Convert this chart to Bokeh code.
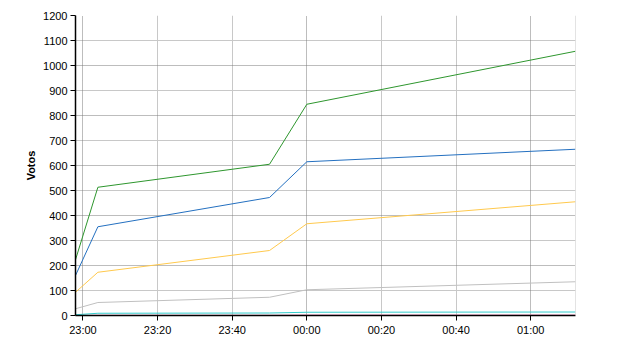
from datetime import datetime, timedelta
from bokeh.plotting import figure
from bokeh.models import Range1d, FixedTicker, Grid, DatetimeTickFormatter, Span
from bokeh.embed import file_html
from bokeh.resources import INLINE

# ---- data ----
times = ["22:58", "23:04", "23:50", "00:00", "01:12"]
green = [223, 513, 605, 845, 1057]
blue = [160, 355, 472, 615, 665]
yellow = [93, 173, 260, 367, 455]
gray = [27, 52, 73, 103, 135]
cyan = [3, 9, 10, 13, 14]
pink = [0, 1, 1, 2, 2]
x_tick_labels = ["23:00", "23:20", "23:40", "00:00", "00:20", "00:40", "01:00"]
y_ticks = list(range(0, 1201, 100))

BASE = datetime(2011, 5, 22)
EPOCH = datetime(1970, 1, 1)


def to_dt(hhmm):
    h, m = map(int, hhmm.split(":"))
    d = BASE if h >= 12 else BASE + timedelta(days=1)
    return d.replace(hour=h, minute=m)


def to_ms(dt):
    return (dt - EPOCH).total_seconds() * 1000.0


xs = [to_dt(t) for t in times]
x_start, x_end = xs[0], xs[-1]
tick_ms = [to_ms(to_dt(t)) for t in x_tick_labels]
hour_ticks = [to_ms(to_dt(t)) for t in x_tick_labels if t.endswith(":00")]
other_ticks = [to_ms(to_dt(t)) for t in x_tick_labels if not t.endswith(":00")]

p = figure(width=640, height=350, x_axis_type="datetime",
           x_range=Range1d(x_start, x_end), y_range=Range1d(0, 1200),
           output_backend="svg", toolbar_location=None,
           min_border_left=75, min_border_right=65,
           min_border_top=15, min_border_bottom=35)
p.outline_line_color = None
p.background_fill_color = "white"
p.border_fill_color = "white"

# grids
p.xgrid.grid_line_color = None
p.ygrid.grid_line_color = None
light = "#c8c8c8"
dark = "#7a7a7a"
p.add_layout(Grid(dimension=1, ticker=FixedTicker(ticks=[v for v in y_ticks if v % 200 == 100]),
                  grid_line_color=light, grid_line_width=1))
p.add_layout(Grid(dimension=0, ticker=FixedTicker(ticks=other_ticks),
                  grid_line_color=light, grid_line_width=1))
p.add_layout(Grid(dimension=1, ticker=FixedTicker(ticks=[v for v in y_ticks if v % 200 == 0]),
                  grid_line_color=dark, grid_line_width=1, grid_line_dash="1 1"))
p.add_layout(Grid(dimension=0, ticker=FixedTicker(ticks=hour_ticks),
                  grid_line_color=dark, grid_line_width=1, grid_line_dash="1 1"))
p.add_layout(Span(location=to_ms(x_end), dimension="height", line_color=light, line_width=1))

# lines
p.line(xs, gray, line_color="#c0c0c0", line_width=1)
p.line(xs, pink, line_color="#ff99cc", line_width=1)
p.line(xs, cyan, line_color="#33cccc", line_width=1)
p.line(xs, yellow, line_color="#ffc94d", line_width=1)
p.line(xs, blue, line_color="#2470c0", line_width=1)
p.line(xs, green, line_color="#2e962e", line_width=1)

# axes
font = "Liberation Sans"
p.xaxis.ticker = FixedTicker(ticks=tick_ms)
p.xaxis.formatter = DatetimeTickFormatter(minutes="%H:%M", hours="%H:%M",
                                          hourmin="%H:%M", days="%H:%M")
p.yaxis.ticker = FixedTicker(ticks=y_ticks)
for ax in (p.xaxis, p.yaxis):
    ax.axis_line_color = "black"
    ax.axis_line_width = 1.5
    ax.major_tick_line_color = "black"
    ax.major_tick_out = 5
    ax.major_tick_in = 0
    ax.minor_tick_line_color = None
    ax.major_label_text_font = font
    ax.major_label_text_font_size = "11px"
    ax.major_label_text_color = "black"
    ax.major_label_standoff = 3
p.yaxis.axis_label = "Votos"
p.yaxis.axis_label_text_font = font
p.yaxis.axis_label_text_font_size = "11px"
p.yaxis.axis_label_text_font_style = "bold"
p.yaxis.axis_label_text_color = "black"
p.yaxis.axis_label_standoff = 3

open("out.html", "w").write(file_html(p, INLINE))
